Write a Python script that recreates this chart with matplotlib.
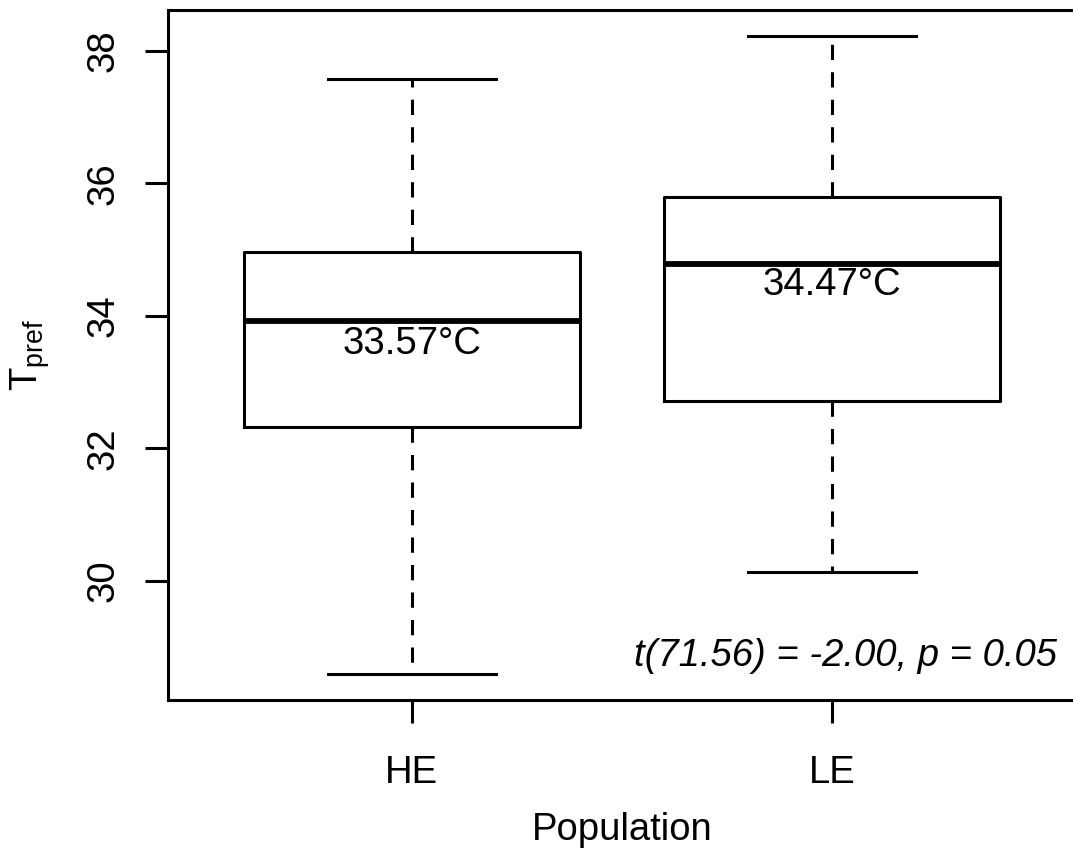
import matplotlib
matplotlib.use("Agg")
import matplotlib.pyplot as plt

plt.rcParams['font.family'] = ['Liberation Sans', 'DejaVu Sans']
plt.rcParams['mathtext.default'] = 'regular'

# Box summaries (°C)
populations = ["HE", "LE"]
whisker_low = [28.59, 30.14]
quart_low = [32.32, 32.71]
medians = [33.92, 34.78]
quart_high = [34.96, 35.79]
whisker_high = [37.57, 38.23]
means = [33.57, 34.47]
ttest_text = "t(71.56) = -2.00, p = 0.05"

FS = 27.5
LW = 2.2

fig = plt.figure(figsize=(10.73, 8.55), dpi=100)
ax = fig.add_axes([168 / 1073, 1 - 700 / 855, 907.6 / 1073, 690 / 855])

stats = []
for i, name in enumerate(populations):
    stats.append({
        "label": name,
        "whislo": whisker_low[i],
        "q1": quart_low[i],
        "med": medians[i],
        "q3": quart_high[i],
        "whishi": whisker_high[i],
        "fliers": [],
    })

pos = [1, 2]
ax.bxp(stats, positions=pos, widths=0.8, capwidths=0.4, showfliers=False,
       boxprops=dict(color="black", linewidth=LW),
       whiskerprops=dict(color="black", linewidth=LW, linestyle=(0, (5, 4))),
       capprops=dict(color="black", linewidth=LW),
       medianprops=dict(color="black", linewidth=4.2, solid_capstyle="butt"))

# mean labels inside boxes
for p, m in zip(pos, means):
    ax.text(p, m, f"{m:.2f}°C", ha="center", va="center", fontsize=FS)

ax.text(2.536, 28.87, ttest_text, ha="right", va="center", fontsize=FS,
        style="italic")

ax.set_xlim(0.42, 2.58)
ax.set_ylim(28.204, 38.616)
ax.set_yticks([30, 32, 34, 36, 38])
ax.set_xticks(pos)
ax.set_xticklabels(populations)
for lab in ax.get_yticklabels():
    lab.set_rotation(90)
    lab.set_va("center")

ax.tick_params(direction="out", length=16.5, width=LW, labelsize=FS, colors="black")
ax.tick_params(axis="y", pad=17)
ax.tick_params(axis="x", pad=23)

for side in ["left", "bottom", "top", "right"]:
    ax.spines[side].set_linewidth(LW)

ax.set_xlabel("Population", fontsize=FS, labelpad=15)
ax.set_ylabel("T$_{pref}$", fontsize=FS, labelpad=24)

fig.savefig("out.png", dpi=100)
